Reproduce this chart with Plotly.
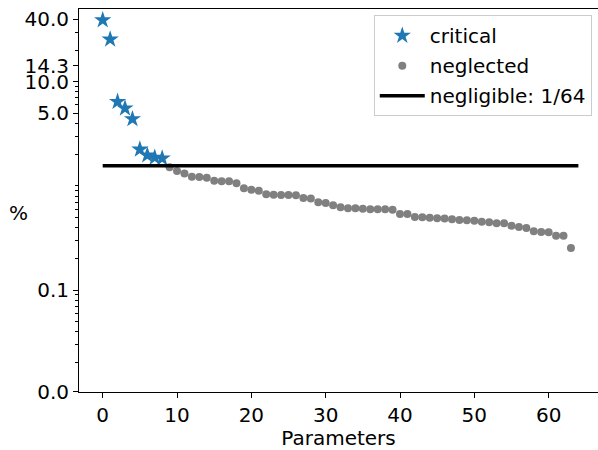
import plotly.graph_objects as go

# Share (%) of each parameter, sorted in descending order
critical_idx = [0, 1, 2, 3, 4, 5, 6, 7, 8]
critical_pct = [39.0, 25.5, 6.43, 5.56, 4.39, 2.24, 1.97, 1.87, 1.84]

neglected_idx = list(range(9, 64))
neglected_pct = [
    1.508, 1.390, 1.315, 1.225, 1.215, 1.199, 1.122, 1.107, 1.107, 1.059,
    0.948, 0.919, 0.899, 0.831, 0.823, 0.818, 0.818, 0.813, 0.765, 0.757,
    0.698, 0.686, 0.652, 0.623, 0.610, 0.610, 0.604, 0.596, 0.596, 0.596,
    0.591, 0.537, 0.537, 0.503, 0.500, 0.495, 0.489, 0.486, 0.478, 0.471,
    0.468, 0.463, 0.453, 0.448, 0.438, 0.438, 0.415, 0.403, 0.394, 0.367,
    0.361, 0.359, 0.333, 0.333, 0.254,
]

# Threshold below which a parameter counts as negligible
threshold_x = [0, 64]
threshold_pct = 100.0 / 64.0

y_tickvals = [0.0106, 0.1, 5.0, 10.0, 14.3, 40.0]
y_ticktext = ["0.0", "0.1", "5.0", "10.0", "14.3", "40.0"]
x_tickvals = [0, 10, 20, 30, 40, 50, 60]

FONT = "DejaVu Sans"
FS = 20

fig = go.Figure()
fig.add_trace(go.Scatter(
    x=critical_idx, y=critical_pct, mode="markers", name="critical",
    marker=dict(symbol="star", size=13, color="#1f77b4", line=dict(width=0)),
    legendgroup="a",
))
fig.add_trace(go.Scatter(
    x=neglected_idx, y=neglected_pct, mode="markers", name="neglected",
    marker=dict(symbol="circle", size=8, color="gray", line=dict(width=0)),
    legendgroup="b",
))
fig.add_trace(go.Scatter(
    x=threshold_x, y=[threshold_pct] * len(threshold_x), mode="lines",
    name="negligible: 1/64", line=dict(color="black", width=3.5),
    legendgroup="c",
))

fig.update_layout(
    width=598, height=450,
    margin=dict(l=79, r=0, t=9, b=58),
    paper_bgcolor="white", plot_bgcolor="white",
    font=dict(family=FONT, size=FS, color="black"),
    showlegend=True,
    legend=dict(
        x=0.988, y=0.984, xanchor="right", yanchor="top",
        bgcolor="rgba(255,255,255,0.8)", bordercolor="#cccccc", borderwidth=1,
        font=dict(family=FONT, size=FS, color="black"),
        traceorder="grouped", tracegroupgap=1, itemwidth=45,
    ),
    xaxis=dict(
        range=[-3.19, 66.64], tickvals=x_tickvals,
        showline=True, linecolor="black", linewidth=1, mirror=True,
        ticks="outside", ticklen=5, tickwidth=1, tickcolor="black",
        showgrid=False, zeroline=False, automargin=False,
        title=dict(text="Parameters", font=dict(family=FONT, size=FS), standoff=3),
    ),
    yaxis=dict(
        type="log", range=[-1.978, 1.698],
        tickvals=y_tickvals, ticktext=y_ticktext,
        showline=True, linecolor="black", linewidth=1, mirror=False,
        ticks="outside", ticklen=5, tickwidth=1, tickcolor="black",
        minor=dict(ticks="outside", ticklen=3, tickwidth=1, tickcolor="black", dtick="D1", showgrid=False),
        showgrid=False, zeroline=False, automargin=False,
    ),
    annotations=[dict(
        text="%", xref="paper", yref="paper", x=-0.1387, y=0.467,
        showarrow=False, font=dict(family=FONT, size=FS, color="black"),
    )],
)

fig.write_html("out.html")
